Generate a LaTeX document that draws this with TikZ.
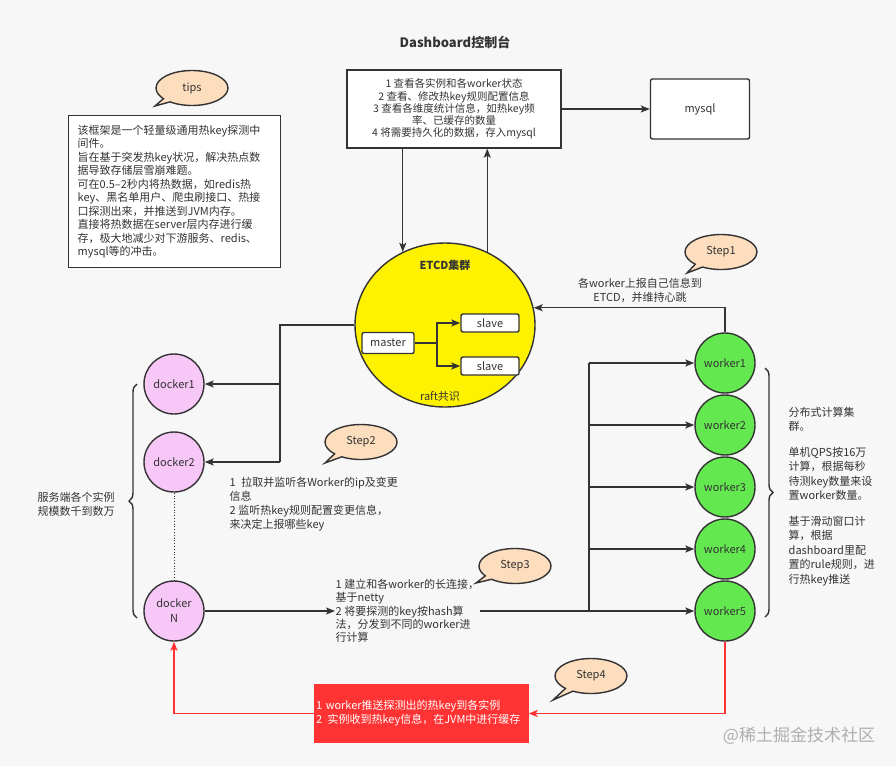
\documentclass[tikz,border=0pt]{standalone}
\usepackage{fontspec}
\setmainfont{Noto Sans CJK SC}
\usetikzlibrary{arrows.meta,shapes.geometric,shapes.callouts,decorations.pathreplacing}
\definecolor{ink}{RGB}{51,51,51}
\definecolor{peach}{RGB}{252,221,190}
\definecolor{pinkfill}{RGB}{247,200,247}
\definecolor{greenfill}{RGB}{100,232,80}
\definecolor{hotred}{RGB}{255,51,51}
\definecolor{bg}{RGB}{247,247,247}
\definecolor{markgray}{RGB}{175,175,175}

\begin{document}
\begin{tikzpicture}[x=1pt, y=-1pt, line width=1.4pt, color=ink,
    font=\fontsize{11}{14}\selectfont,
    arr/.style={-{Stealth[length=9pt,width=7pt,inset=2pt]}},
    bubble/.style={ellipse callout, draw, fill=peach, minimum width=72pt, minimum height=35pt, inner sep=0pt},
    docker/.style={circle, draw, fill=pinkfill, minimum size=60pt, inner sep=0pt},
    worker/.style={circle, draw, fill=greenfill, minimum size=60pt, inner sep=0pt},
    smallbox/.style={draw, fill=white, rounded corners=2pt, inner sep=0pt},
    curly/.style={decorate, decoration={brace, amplitude=8pt}}]
      \useasboundingbox[fill=bg] (0,0) rectangle (896,766);
      % dashboard
      \node[font=\bfseries\fontsize{13}{15}\selectfont] (title) at (455,42) {Dashboard控制台};
      \node[draw, fill=white, minimum width=214pt, minimum height=78pt, align=center,
            font=\fontsize{10.5}{12.2}\selectfont] (dash) at (454,109)
            {1 查看各实例和各worker状态\\2 查看、修改热key规则配置信息\\3 查看各维度统计信息，如热key频\\率、已缓存的数量\\4 将需要持久化的数据，存入mysql};
      \node[smallbox, minimum width=99pt, minimum height=60pt] (mysql) at (700,109) {mysql};
      \draw[arr] (dash) -- (mysql);
      % tips
      \node[bubble, callout absolute pointer={(155,106)}] (tips) at (192,88) {tips};
      \node[draw, fill=white, anchor=north west, text width=194pt, inner xsep=9pt,
            minimum height=152pt, align=left, font=\fontsize{11}{13.5}\selectfont] (intro) at (68,115)
            {该框架是一个轻量级通用热key探测中\\间件。\\旨在基于突发热key状况，解决热点数\\据导致存储层雪崩难题。\\可在0.5–2秒内将热数据，如redis热\\key、黑名单用户、爬虫刷接口、热接\\口探测出来，并推送到JVM内存。\\直接将热数据在server层内存进行缓\\存，极大地减少对下游服务、redis、\\mysql等的冲击。};
      % etcd
      \node[ellipse, draw, fill=yellow, minimum width=180pt, minimum height=164pt] (etcd) at (445,325) {};
      \node[font=\bfseries\fontsize{11}{13}\selectfont] (etcdname) at (445,265) {ETCD集群};
      \node (raft) at (440,396) {raft共识};
      \node[smallbox, minimum width=52pt, minimum height=21pt] (master) at (388,343) {master};
      \node[smallbox, minimum width=58pt, minimum height=18pt] (s1) at (490,323) {slave};
      \node[smallbox, minimum width=58pt, minimum height=18pt] (s2) at (490,366) {slave};
      \coordinate (mb) at (437,343);
      \draw (master) -- (mb);
      \draw[arr] (mb) |- (s1);
      \draw[arr] (mb) |- (s2);
      \draw[arr] (dash.south -| etcd.120) -- (etcd.120);
      \draw[arr] (etcd.60) -- (etcd.60 |- dash.south);
      % workers
      \node[worker] (w1) at (725,363) {worker1};
      \node[worker] (w2) at (725,425) {worker2};
      \node[worker] (w3) at (725,487) {worker3};
      \node[worker] (w4) at (725,549) {worker4};
      \node[worker] (w5) at (725,611) {worker5};
      \node[bubble, callout absolute pointer={(687,273)}] (step1) at (721,252) {Step1};
      \node[align=center] (t1) at (640,290) {各worker上报自己信息到\\ETCD，并维持心跳};
      \draw[arr] (w1.north) |- (etcd.11);
      \draw[curly] (765,368) -- (765,617);
      \node[anchor=north west, align=left, inner sep=0pt, font=\fontsize{11}{14.5}\selectfont] (t4) at (788,406)
            {分布式计算集\\群。\\[11pt]单机QPS按16万\\计算，根据每秒\\待测key数量来设\\置worker数量。\\[11pt]基于滑动窗口计\\算，根据\\dashboard里配\\置的rule规则，进\\行热key推送};
      % dockers
      \node[docker] (d1) at (174,384) {docker1};
      \node[docker] (d2) at (174,462) {docker2};
      \node[docker, align=center, font=\fontsize{11}{15}\selectfont] (dN) at (174,611) {docker\\N};
      \draw[dotted, line width=0.8pt] (d2.south) -- (dN.north);
      \coordinate (jd) at (280,462);
      \draw (etcd.west) -| (jd);
      \draw[arr] (jd |- d1) -- (d1);
      \draw[arr] (jd) -- (d2);
      \draw[curly] (137,618) -- (137,384);
      \node[align=center] (svc) at (76,504) {服务端各个实例\\规模数千到数万};
      % step2
      \node[bubble, callout absolute pointer={(325,463)}] (step2) at (361,442) {Step2};
      \node[anchor=north west, align=left, inner sep=0pt] (t2) at (229,476)
            {1\enspace 拉取并监听各Worker的ip及变更\\信息\\2 监听热key规则配置变更信息，\\来决定上报哪些key};
      % step3
      \node[bubble, callout absolute pointer={(476,583)}] (step3) at (515,566) {Step3};
      \node[anchor=west, align=left, inner sep=0pt, font=\fontsize{11}{13.3}\selectfont] (t3) at (335,611)
            {1 建立和各worker的长连接，\\基于netty\\2 将要探测的key按hash算\\法，分发到不同的worker进\\行计算};
      \coordinate (jw) at (589,611);
      \draw[arr] (dN) -- (t3.west);
      \draw (t3.east) -- (jw);
      \draw (jw) -- (jw |- w1);
      \draw[arr] (jw |- w1) -- (w1);
      \draw[arr] (jw |- w2) -- (w2);
      \draw[arr] (jw |- w3) -- (w3);
      \draw[arr] (jw |- w4) -- (w4);
      \draw[arr] (jw) -- (w5);
      % step4
      \node[bubble, callout absolute pointer={(553,700)}] (step4) at (591,676) {Step4};
      \node[fill=hotred, draw=hotred, text=white, text width=211pt, inner xsep=1pt, minimum height=57pt,
            align=left] (push) at (421.5,713.5)
            {1 worker推送探测出的热key到各实例\\2\enspace 实例收到热key信息，在JVM中进行缓存};
      \draw[arr, hotred] (w5.south) |- (push.east);
      \draw[arr, hotred] (push.west) -| (dN.south);
      \node[text=markgray, font=\fontsize{17}{20}\selectfont] (mark) at (799,736) {@稀土掘金技术社区};
   \end{tikzpicture}
\end{document}
